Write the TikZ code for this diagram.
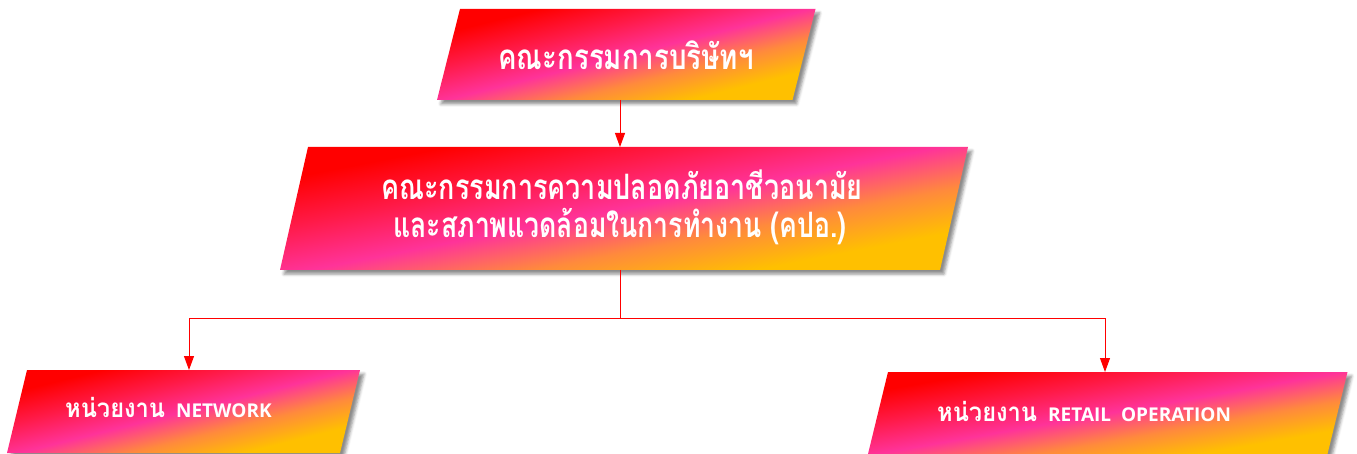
\documentclass[tikz,border=0pt]{standalone}
\usepackage{fontspec}
\usepackage{graphicx}
\usetikzlibrary{arrows.meta,shadows.blur}
\newfontfamily\thaifont[Script=Thai]{Loma}
\newfontfamily\latinfont{Open Sans}
\definecolor{gred}{HTML}{FF0000}
\definecolor{gcrimson}{HTML}{FF1A48}
\definecolor{gpink}{HTML}{FF3399}
\definecolor{gorange}{HTML}{FF8A3C}
\definecolor{gyellow}{HTML}{FFC000}
\definecolor{lred}{HTML}{FF0000}
\pgfdeclareverticalshading{parashade}{100bp}{color(0bp)=(gyellow); color(30bp)=(gyellow);
  color(40bp)=(gorange); color(50bp)=(gpink); color(61bp)=(gcrimson); color(72bp)=(gred); color(100bp)=(gred)}
\newcommand\drawpara[3]{%
  \path[para, shading angle=#3] ([xshift=#2]#1.north west) -- ([xshift=#2]#1.north east)
    -- ([xshift=-#2]#1.south east) -- ([xshift=-#2]#1.south west) -- cycle;}
\begin{document}
\begin{tikzpicture}[x=1pt,y=-1pt,
  frame/.style={inner sep=0pt, outer sep=0pt},
  para/.style={shading=parashade,
    blur shadow={shadow xshift=4pt, shadow yshift=-4pt, shadow blur radius=3pt, shadow opacity=45}},
  conn/.style={draw=lred, line width=0.9pt, -{Triangle[width=10pt,length=14pt]}},
  link/.style={draw=lred, line width=0.9pt},
  bigtxt/.style={text=white, inner sep=0pt, font=\thaifont\bfseries\fontsize{35}{38}\selectfont},
  smalltxt/.style={text=white, inner sep=0pt, font=\thaifont\bfseries\fontsize{26}{30}\selectfont}
]
\useasboundingbox (0,0) rectangle (1357,454);
\node[frame, minimum width=355.5pt, minimum height=91pt] (b1) at (626.25,54.5) {};
\node[frame, minimum width=660pt, minimum height=123pt] (b2) at (624,208.5) {};
\node[frame, minimum width=333pt, minimum height=83pt] (b3) at (183.5,411.5) {};
\node[frame, minimum width=459.5pt, minimum height=82pt] (b4) at (1107.75,413) {};
\drawpara{b1}{11.5pt}{14}
\drawpara{b2}{14pt}{11}
\drawpara{b3}{10pt}{14}
\drawpara{b4}{10pt}{10}
\node[bigtxt, anchor=base] (t1) at (626,70) {\scalebox{0.79}[1]{คณะกรรมการบริษัทฯ}};
\node[bigtxt, anchor=base] (t2a) at (622,200) {\scalebox{0.77}[1]{คณะกรรมการความปลอดภัยอาชีวอนามัย}};
\node[bigtxt, anchor=base] (t2b) at (620,238) {\scalebox{0.76}[1]{และสภาพแวดล้อมในการทำงาน (คปอ.)}};
\node[smalltxt, anchor=base west] (t3) at (65,417) {\scalebox{0.91}[1]{หน่วยงาน}\hspace{11pt}{\latinfont\fontsize{19}{21}\selectfont NETWORK}};
\node[smalltxt, anchor=base west] (t4) at (937,421) {\scalebox{0.91}[1]{หน่วยงาน}\hspace{11pt}{\latinfont\fontsize{19}{21}\selectfont RETAIL\hspace{5pt} OPERATION}};
\coordinate (j) at (620,318);
\draw[conn] ([xshift=-6.25pt]b1.south) -- ([xshift=-6.25pt]b1.south |- b2.north);
\draw[link] ([xshift=-4pt]b2.south) -- (j);
\draw[conn] (j) -| ([xshift=5.5pt]b3.north);
\draw[conn] (j) -| ([xshift=-2.75pt]b4.north);
\end{tikzpicture}
\end{document}
